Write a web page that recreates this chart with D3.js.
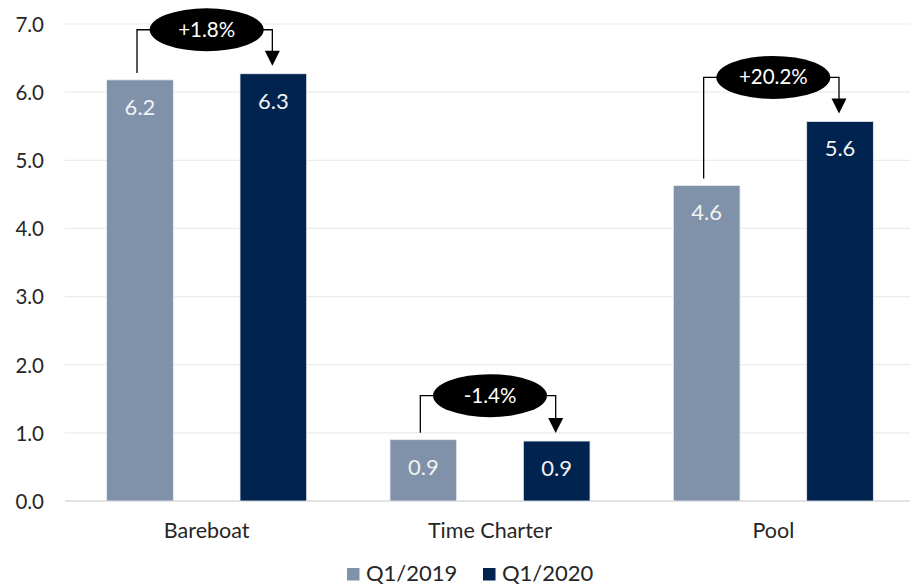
<!DOCTYPE html>
<html>
<head>
<meta charset="utf-8">
<script src="https://cdn.jsdelivr.net/npm/d3@7"></script>
<style>
  html, body { margin: 0; padding: 0; background: #fff; }
  svg { display: block; font-family: Lato, "Open Sans", sans-serif; }
</style>
</head>
<body>
<svg id="chart" width="910" height="585"></svg>
<script>
const categories = ["Bareboat", "Time Charter", "Pool"];
const seriesNames = ["Q1/2019", "Q1/2020"];
const q12019 = [6.18, 0.90, 4.63];
const q12020 = [6.27, 0.88, 5.57];
const valueLabels2019 = ["6.2", "0.9", "4.6"];
const valueLabels2020 = ["6.3", "0.9", "5.6"];
const changeLabels = ["+1.8%", "-1.4%", "+20.2%"];
const yTicks = [0, 1, 2, 3, 4, 5, 6, 7];
const colors = ["#8091AA", "#00234F"];

const svg = d3.select("#chart");
const x0 = d3.scaleBand().domain(categories).range([65, 915]).paddingInner(0.294).paddingOuter(0.147);
const x1 = d3.scaleBand().domain(seriesNames).range([0, x0.bandwidth()]).paddingInner(0.5).paddingOuter(0);
const y = d3.scaleLinear().domain([0, 7]).range([501, 24]);

// gridlines
svg.append("g").selectAll("line").data(yTicks).join("line")
  .attr("x1", 65).attr("x2", 915)
  .attr("y1", d => y(d)).attr("y2", d => y(d))
  .attr("stroke", d => d === 0 ? "#d9d9d9" : "#ececec")
  .attr("stroke-width", d => d === 0 ? 1.5 : 1.2);

// y axis labels
const yAxis = d3.axisLeft(y).tickValues(yTicks).tickFormat(d3.format(".1f")).tickSize(0).tickPadding(0);
const ya = svg.append("g").attr("transform", "translate(44,0)").call(yAxis);
ya.select(".domain").remove();
ya.selectAll("text").attr("font-size", 20.5).attr("fill", "#262626")
  .attr("font-family", "Lato, sans-serif").attr("dy", "0.36em");

// x category labels
const xAxis = d3.axisBottom(x0).tickSize(0).tickPadding(0);
const xa = svg.append("g").attr("transform", "translate(0,520)").call(xAxis);
xa.select(".domain").remove();
xa.selectAll("text").attr("font-size", 21.5).attr("fill", "#262626")
  .attr("font-family", "Lato, sans-serif").attr("dy", "0.82em");

const rows = categories.map((c, i) => ({
  cat: c,
  vals: [
    { s: seriesNames[0], v: q12019[i], lab: valueLabels2019[i] },
    { s: seriesNames[1], v: q12020[i], lab: valueLabels2020[i] }
  ],
  change: changeLabels[i]
}));

const groups = svg.append("g").selectAll("g").data(rows).join("g")
  .attr("transform", d => `translate(${x0(d.cat)},0)`);

groups.selectAll("rect").data(d => d.vals).join("rect")
  .attr("x", d => x1(d.s))
  .attr("width", x1.bandwidth())
  .attr("y", d => y(d.v))
  .attr("height", d => y(0) - y(d.v))
  .attr("fill", (d, i) => colors[i])
  .attr("stroke", "#e8ebf0").attr("stroke-width", 0.8);

groups.selectAll("text.val").data(d => d.vals).join("text")
  .attr("class", "val")
  .attr("x", d => x1(d.s) + x1.bandwidth() / 2)
  .attr("y", d => y(d.v) + 35)
  .attr("text-anchor", "middle")
  .attr("font-size", 22)
  .attr("fill", "#f2f2f2")
  .text(d => d.lab);

// annotation brackets
const ann = svg.append("g");
rows.forEach(r => {
  const cx = x0(r.cat) + x0.bandwidth() / 2;
  const xa1 = x0(r.cat) + x1(seriesNames[0]) + x1.bandwidth() / 2 - 3;
  const xb1 = x0(r.cat) + x1(seriesNames[1]) + x1.bandwidth() / 2 - 1;
  const top = y(Math.max(r.vals[0].v, r.vals[1].v)) - 44;
  const startY = y(r.vals[0].v) - 7;
  const tipY = y(r.vals[1].v) - 8;
  ann.append("path")
    .attr("d", `M${xa1},${startY}V${top}H${xb1}V${tipY - 14}`)
    .attr("fill", "none").attr("stroke", "#000").attr("stroke-width", 1.3);
  ann.append("path")
    .attr("d", `M${xb1 - 7.5},${tipY - 15}L${xb1 + 7.5},${tipY - 15}L${xb1},${tipY}Z`)
    .attr("fill", "#000");
  ann.append("ellipse")
    .attr("cx", cx).attr("cy", top).attr("rx", 57).attr("ry", 21.5)
    .attr("fill", "#000");
  ann.append("text")
    .attr("x", cx).attr("y", top + 7)
    .attr("text-anchor", "middle")
    .attr("font-size", 20.5)
    .attr("fill", "#fff")
    .text(r.change);
});

// legend
const legend = svg.append("g");
const legX = [347, 483];
seriesNames.forEach((s, i) => {
  legend.append("rect").attr("x", legX[i]).attr("y", 568).attr("width", 12.5).attr("height", 12.5)
    .attr("fill", colors[i]);
  legend.append("text").attr("x", legX[i] + 19).attr("y", 580.5)
    .attr("font-size", 22).attr("fill", "#262626").text(s);
});
</script>
</body>
</html>
